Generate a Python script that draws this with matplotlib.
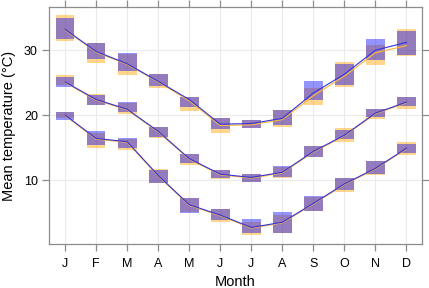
import matplotlib
matplotlib.use("Agg")
import matplotlib.pyplot as plt
import numpy as np

plt.rcParams['font.family'] = ['Liberation Sans', 'DejaVu Sans']

months = ['J', 'F', 'M', 'A', 'M', 'J', 'J', 'A', 'S', 'O', 'N', 'D']

# highs
hi_orange_lo = [31.4, 28.0, 26.2, 24.1, 20.7, 17.2, 18.0, 18.1, 21.5, 24.4, 27.7, 29.1]
hi_orange_hi = [35.4, 31.1, 29.4, 26.3, 22.8, 19.5, 19.2, 20.8, 24.1, 28.1, 30.8, 33.2]
hi_blue_lo = [31.7, 28.6, 26.8, 24.5, 21.2, 17.8, 18.0, 18.5, 22.4, 24.7, 28.5, 29.3]
hi_blue_hi = [35.0, 31.1, 29.6, 26.3, 22.8, 19.5, 19.2, 20.8, 25.2, 27.8, 31.7, 32.9]
hi_orange_line = [33.1, 29.7, 27.8, 25.1, 22.2, 18.4, 18.5, 19.3, 23.0, 26.0, 29.6, 30.7]
hi_blue_line = [33.2, 29.8, 27.9, 25.2, 22.4, 18.6, 18.7, 19.5, 23.4, 26.3, 30.0, 31.2]

# means
mid_orange_lo = [24.6, 21.5, 20.1, 16.5, 12.3, 10.1, 9.65, 10.3, 13.5, 15.9, 19.4, 20.9]
mid_orange_hi = [26.2, 23.3, 21.8, 18.2, 14.0, 11.6, 11.0, 12.0, 15.3, 18.0, 20.9, 22.8]
mid_blue_lo = [24.3, 21.6, 20.4, 16.6, 12.6, 10.35, 9.65, 10.5, 13.5, 16.3, 19.7, 21.4]
mid_blue_hi = [25.9, 23.1, 22.0, 18.2, 14.0, 11.5, 11.0, 12.1, 15.3, 17.7, 20.9, 22.8]
mid_orange_line = [25.0, 22.3, 20.8, 17.4, 13.2, 10.8, 10.3, 11.1, 14.3, 16.8, 20.2, 21.9]
mid_blue_line = [25.1, 22.4, 20.9, 17.5, 13.3, 10.9, 10.4, 11.2, 14.4, 16.9, 20.3, 22.0]

# lows
lo_orange_lo = [19.5, 15.0, 14.6, 9.6, 5.1, 3.5, 1.5, 1.9, 5.2, 8.1, 10.8, 13.9]
lo_orange_hi = [20.5, 17.3, 16.3, 11.7, 7.2, 5.5, 3.5, 4.6, 7.4, 10.3, 12.9, 15.9]
lo_blue_lo = [19.3, 15.4, 15.0, 9.5, 4.9, 3.85, 1.9, 1.9, 5.3, 8.5, 11.0, 14.1]
lo_blue_hi = [20.5, 17.5, 16.5, 11.5, 7.3, 5.6, 4.0, 5.0, 7.6, 10.3, 12.9, 15.5]
lo_orange_line = [19.9, 16.3, 15.8, 10.6, 6.1, 4.5, 2.6, 3.4, 6.3, 9.3, 11.7, 14.8]
lo_blue_line = [20.0, 16.4, 15.9, 10.7, 6.2, 4.6, 2.7, 3.5, 6.4, 9.4, 11.8, 14.9]

x = np.arange(1, 13)

fig = plt.figure(figsize=(4.29, 2.88), dpi=100)
ax = fig.add_axes([0.1142, 0.1528, 0.8695, 0.823])

ax.set_axisbelow(True)
ax.grid(True, color='#ebebeb', linewidth=0.8)

orange_boxes = [(hi_orange_lo, hi_orange_hi), (mid_orange_lo, mid_orange_hi), (lo_orange_lo, lo_orange_hi)]
blue_boxes = [(hi_blue_lo, hi_blue_hi), (mid_blue_lo, mid_blue_hi), (lo_blue_lo, lo_blue_hi)]

for lo, hi in orange_boxes:
    lo = np.array(lo)
    hi = np.array(hi)
    ax.bar(x, hi - lo, bottom=lo, width=0.6, color='#FFA500', alpha=0.45, linewidth=0)
for lo, hi in blue_boxes:
    lo = np.array(lo)
    hi = np.array(hi)
    ax.bar(x, hi - lo, bottom=lo, width=0.6, color='#0000FF', alpha=0.42, linewidth=0)

for line in [hi_orange_line, mid_orange_line, lo_orange_line]:
    ax.plot(x, line, color='#FFB733', linewidth=0.8)
for line in [hi_blue_line, mid_blue_line, lo_blue_line]:
    ax.plot(x, line, color='#3333DD', linewidth=0.8)

ax.set_xlim(0.48, 12.5)
ax.set_ylim(0.15, 36.65)
ax.set_xticks(x)
ax.set_xticklabels(months)
ax.set_yticks([10, 20, 30])

for s in ax.spines.values():
    s.set_color('#8c8c8c')
    s.set_linewidth(0.9)

ax.tick_params(axis='both', direction='out', length=5, width=0.9, color='#8c8c8c',
               labelsize=9, top=True, right=True, labeltop=False, labelright=False, pad=3)
ax.tick_params(axis='x', pad=5)

ax.set_xlabel('Month', fontsize=10.5, labelpad=4)
ax.set_ylabel('Mean temperature (°C)', fontsize=10.5, labelpad=6)

fig.savefig('out.png', dpi=100)
